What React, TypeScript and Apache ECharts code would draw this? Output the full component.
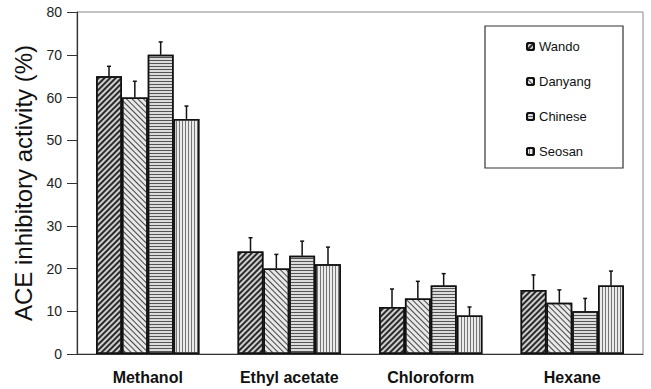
import React, { useEffect, useRef } from "react";
import * as echarts from "echarts";

const categories = ["Methanol", "Ethyl acetate", "Chloroform", "Hexane"];
const seriesNames = ["Wando", "Danyang", "Chinese", "Seosan"];
const wando = [65, 24, 11, 15];
const wandoErr = [2.3, 3.2, 4.2, 3.5];
const danyang = [60, 20, 13, 12];
const danyangErr = [3.8, 3.3, 4.0, 3.0];
const chinese = [70, 23, 16, 10];
const chineseErr = [3.0, 3.4, 2.8, 3.0];
const seosan = [55, 21, 9, 16];
const seosanErr = [3.0, 4.0, 2.0, 3.4];
const yTicks = [0, 10, 20, 30, 40, 50, 60, 70, 80];

const FONT = "'Liberation Sans', Arial, sans-serif";
const CAT_GAP = 0.27;

export default function App() {
  const ref = useRef<HTMLDivElement>(null);
  useEffect(() => {
    document.body.style.margin = "0";
    if (!ref.current) return;
    const chart = echarts.init(ref.current, undefined, { renderer: "svg" });
    const values = [wando, danyang, chinese, seosan];
    const errs = [wandoErr, danyangErr, chineseErr, seosanErr];
    const decals = [
      { symbol: "rect", symbolSize: 1, dashArrayX: [1, 0], dashArrayY: [2, 2], rotation: -Math.PI / 4, color: "#2a2a2a" },
      { symbol: "rect", symbolSize: 1, dashArrayX: [1, 0], dashArrayY: [1, 3], rotation: Math.PI / 4, color: "#444" },
      { symbol: "rect", symbolSize: 1, dashArrayX: [1, 0], dashArrayY: [1, 2], rotation: 0, color: "#555" },
      { symbol: "rect", symbolSize: 1, dashArrayX: [1, 0], dashArrayY: [1, 2], rotation: Math.PI / 2, color: "#777" },
    ];
    const bgColors = ["#cfcfcf", "#e8e8e8", "#dcdcdc", "#ebebeb"];
    const errData: number[][] = [];
    values.forEach((arr, s) => {
      arr.forEach((v, c) => errData.push([c, v, errs[s][c], s]));
    });
    const barSeries = seriesNames.map((name, i) => ({
      name,
      type: "bar",
      data: values[i],
      barGap: "0%",
      barCategoryGap: CAT_GAP * 100 + "%",
      itemStyle: {
        color: bgColors[i],
        borderColor: "#111",
        borderWidth: 1.5,
        decal: decals[i],
      },
    }));
    chart.setOption({
      animation: false,
      textStyle: { fontFamily: FONT },
      grid: {
        left: 77,
        top: 12,
        right: 8,
        bottom: 35,
        show: true,
        borderColor: "#888",
        borderWidth: 1,
      },
      legend: {
        data: seriesNames,
        orient: "vertical",
        left: 521,
        top: 35,
        itemWidth: 7,
        itemHeight: 7,
        itemGap: 22,
        textStyle: { fontSize: 13, color: "#111", fontFamily: FONT },
      },
      graphic: [
        {
          type: "rect",
          shape: { x: 485, y: 26, width: 138, height: 142 },
          style: { fill: "none", stroke: "#333", lineWidth: 1.2 },
          z: 10,
        },
      ],
      xAxis: {
        type: "category",
        data: categories,
        axisTick: { show: false },
        axisLine: { lineStyle: { color: "#333", width: 1.2 } },
        axisLabel: { fontSize: 16, fontWeight: "bold", color: "#111", margin: 15, fontFamily: FONT },
      },
      yAxis: {
        type: "value",
        min: 0,
        max: 80,
        interval: 10,
        name: "ACE inhibitory activity (%)",
        nameLocation: "middle",
        nameGap: 31,
        nameTextStyle: { fontSize: 24, color: "#111", fontFamily: FONT },
        splitLine: { show: false },
        axisLine: { show: true, lineStyle: { color: "#333", width: 1.2 } },
        axisTick: { show: true, inside: false, length: 10, lineStyle: { color: "#333" } },
        axisLabel: {
          fontSize: 14,
          color: "#222",
          margin: 15,
          fontFamily: FONT,
          formatter: (v: number) => (yTicks.includes(v) ? String(v) : ""),
        },
      },
      series: [
        ...barSeries,
        {
          name: "err",
          type: "custom",
          z: 5,
          data: errData,
          encode: { x: 0, y: 1 },
          renderItem: (params: any, api: any) => {
            const c = api.value(0);
            const v = api.value(1);
            const e = api.value(2);
            const s = api.value(3);
            const base = api.coord([c, v]);
            const top = api.coord([c, v + e]);
            const band = api.size([1, 0])[0];
            const bw = (band * (1 - CAT_GAP)) / 4;
            const cx = base[0] + (s - 1.5) * bw;
            const style = { stroke: "#111", lineWidth: 1.5 };
            return {
              type: "group",
              children: [
                { type: "line", shape: { x1: cx, y1: base[1], x2: cx, y2: top[1] }, style },
                { type: "line", shape: { x1: cx - 2, y1: top[1], x2: cx + 2, y2: top[1] }, style },
              ],
            };
          },
        },
      ],
    });
    return () => chart.dispose();
  }, []);
  return <div ref={ref} style={{ width: 651, height: 389 }} />;
}
